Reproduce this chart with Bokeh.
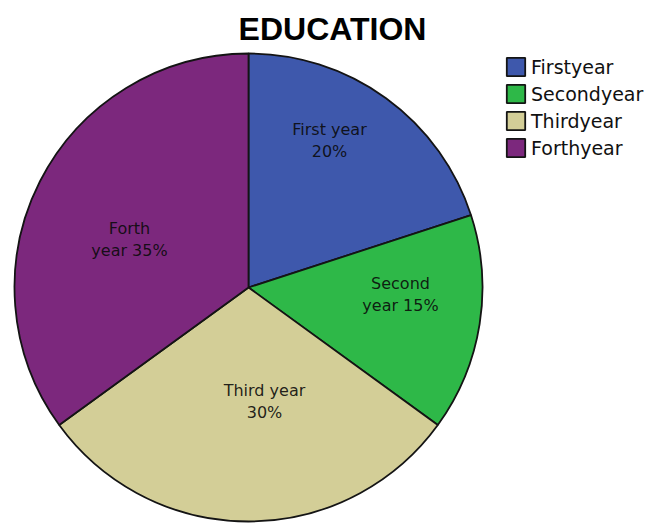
import math
from bokeh.plotting import figure
from bokeh.models import ColumnDataSource, Range1d, Legend, LegendItem, Label
from bokeh.core.properties import value
from bokeh.embed import file_html
from bokeh.resources import INLINE

# ---- data ----
categories = ["Firstyear", "Secondyear", "Thirdyear", "Forthyear"]
percents = [20, 15, 30, 35]
slice_labels = ["First year\n20%", "Second\nyear 15%", "Third year\n30%", "Forth\nyear 35%"]
colors = ["#3E58AC", "#2EB848", "#D3CE97", "#7C287D"]
title_text = "EDUCATION"

# ---- layout (pixel-like data space, y up) ----
W, H = 651, 523
cx, cy, R = 248, H - 287, 234
label_xy = [(329, H - 140), (400, H - 294), (264, H - 401), (129, H - 239)]

total = float(sum(percents))
starts, ends = [], []
cum = 0.0
for v in percents:
    starts.append(math.pi / 2 - 2 * math.pi * cum / total)
    cum += v
    ends.append(math.pi / 2 - 2 * math.pi * cum / total)

src = ColumnDataSource(dict(
    cat=categories, pct=percents, start=starts, end=ends, color=colors,
    x=[cx] * len(percents), y=[cy] * len(percents),
))

p = figure(width=W, height=H, output_backend="svg", toolbar_location=None,
           x_range=Range1d(0, W), y_range=Range1d(0, H), min_border=0)
p.axis.visible = False
p.grid.visible = False
p.outline_line_color = None
p.background_fill_color = "white"
p.border_fill_color = "white"

r = p.wedge(x="x", y="y", radius=R, start_angle="start", end_angle="end",
            direction="clock", fill_color="color", line_color="#141414",
            line_width=1.8, source=src)

lsrc = ColumnDataSource(dict(
    x=[xy[0] for xy in label_xy], y=[xy[1] for xy in label_xy], t=slice_labels))
p.text(x="x", y="y", text="t", source=lsrc, text_align="center",
       text_baseline="middle", text_font=value("DejaVu Sans"),
       text_font_size="16px", text_color="#0a0a0a", text_alpha=0.9,
       text_line_height=1.2)

p.add_layout(Label(x=332, y=H - 28, text=title_text, text_align="center",
                   text_baseline="middle", text_font="Liberation Sans",
                   text_font_style="bold", text_font_size="32px",
                   text_color="black"))

legend = Legend(items=[LegendItem(label=c, renderers=[r], index=i)
                       for i, c in enumerate(categories)],
                location=(504, 364), margin=0, padding=0,
                glyph_width=23, glyph_height=23, spacing=4, label_standoff=4,
                label_text_font="DejaVu Sans", label_text_font_size="19px",
                label_text_color="#111111",
                border_line_color=None, background_fill_alpha=0)
p.add_layout(legend)

open("out.html", "w").write(file_html(p, INLINE))
